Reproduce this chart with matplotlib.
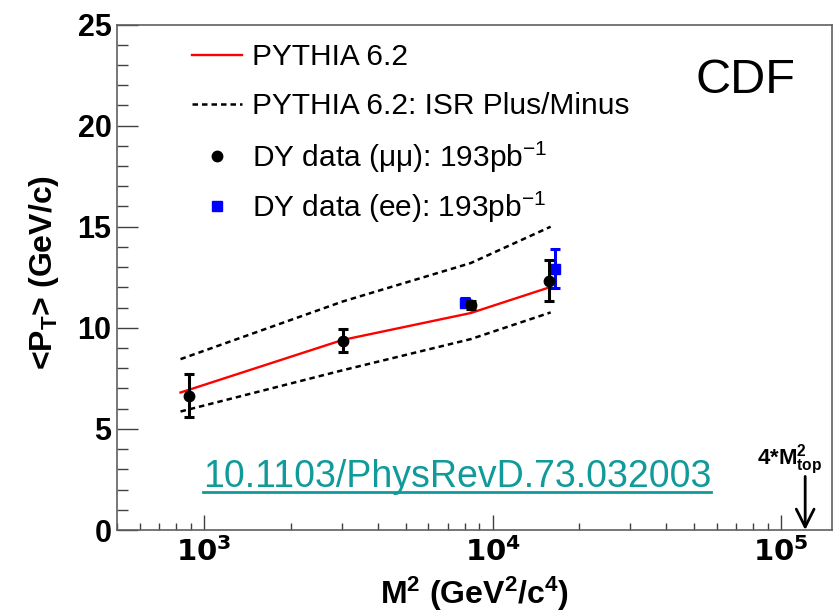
import matplotlib
matplotlib.use("Agg")
import matplotlib.pyplot as plt
from matplotlib.lines import Line2D
from matplotlib.ticker import FixedLocator, LogLocator, MultipleLocator, NullFormatter
import numpy as np

plt.rcParams['font.family'] = ['Liberation Sans', 'DejaVu Sans']
plt.rcParams['mathtext.default'] = 'regular'

# Drell-Yan <pT> vs M^2, CDF data and PYTHIA 6.2 tunes
m2_mumu = [891, 3025, 8410, 15630]
pt_mumu = [6.65, 9.37, 11.14, 12.33]
err_mumu = [1.07, 0.57, 0.2, 1.0]

m2_ee = [8020, 16480]
pt_ee = [11.25, 12.92]
err_ee = [0.2, 0.97]

m2_theory = [830, 3025, 8400, 15900]
pt_pythia = [6.8, 9.4, 10.73, 12.02]
pt_isr_plus = [8.45, 11.3, 13.2, 15.0]
pt_isr_minus = [5.86, 7.9, 9.44, 10.76]

m_top = 174.0
m2_top4 = 4 * m_top ** 2

xtick_vals = [1e3, 1e4, 1e5]
xtick_labels = ['$\\mathbf{10^{3}}$', '$\\mathbf{10^{4}}$', '$\\mathbf{10^{5}}$']
ytick_vals = [0, 5, 10, 15, 20, 25]

dash = (0, (2.2, 1.6))

fig = plt.figure(figsize=(8.33, 6.15), dpi=100)
ax = fig.add_axes([117 / 833, 1 - 530 / 615, 715 / 833, 505.5 / 615])

ax.plot(m2_theory, pt_pythia, color='#ff0000', lw=1.7, zorder=2)
ax.plot(m2_theory, pt_isr_plus, color='black', lw=1.8, ls=dash, zorder=2)
ax.plot(m2_theory, pt_isr_minus, color='black', lw=1.8, ls=dash, zorder=2)

ax.errorbar(m2_ee, pt_ee, yerr=err_ee, fmt='s', color='#0000ff', ms=7,
            elinewidth=2.2, capsize=3.5, capthick=2.2, zorder=3)
ax.errorbar(m2_mumu, pt_mumu, yerr=err_mumu, fmt='o', color='black', ms=7.5,
            elinewidth=2.2, capsize=3.5, capthick=2.2, zorder=4)

ax.set_xscale('log')
ax.set_xlim(500, 1.5e5)
ax.set_ylim(0, 25)

ax.xaxis.set_major_locator(FixedLocator(xtick_vals))
ax.set_xticklabels(xtick_labels)
ax.xaxis.set_minor_locator(LogLocator(base=10, subs=np.arange(2, 10)))
ax.xaxis.set_minor_formatter(NullFormatter())
ax.set_yticks(ytick_vals)
ax.yaxis.set_minor_locator(MultipleLocator(1))

for s in ax.spines.values():
    s.set_color('#606060')
    s.set_linewidth(1.2)

ax.tick_params(axis='y', which='major', direction='in', length=15, width=1, color='#404040',
               labelsize=22, pad=4)
ax.tick_params(axis='y', which='minor', direction='in', length=8, width=1, color='#404040')
ax.tick_params(axis='x', which='major', direction='in', length=11, width=1, color='#404040',
               labelsize=21, pad=5)
ax.tick_params(axis='x', which='minor', direction='in', length=5, width=1, color='#404040')
for lab in ax.get_yticklabels():
    lab.set_fontweight('bold')

fig.text(474 / 833, 1 - 604 / 615, 'M$^2$ (GeV$^2$/c$^4$)', fontsize=23, fontweight='bold',
         ha='center', va='baseline')
fig.text(44 / 833, 1 - 273 / 615, '<P$_T$> (GeV/c)', fontsize=23, fontweight='bold',
         ha='center', va='center', rotation=90)

# legend, one entry per row so the rows stay evenly spaced
handles = [
    Line2D([], [], color='#ff0000', lw=1.7),
    Line2D([], [], color='black', lw=1.8, ls=dash),
    Line2D([], [], color='black', marker='o', ls='none', ms=7.5),
    Line2D([], [], color='#0000ff', marker='s', ls='none', ms=7),
]
labels = ['PYTHIA 6.2', 'PYTHIA 6.2: ISR Plus/Minus',
          'DY data ($\\mu\\mu$): 193pb$^{-1}$', 'DY data (ee): 193pb$^{-1}$']
row_y = [57, 106, 157, 207]
for h, lab, y in zip(handles, labels, row_y):
    fig.legend([h], [lab], loc='center left', bbox_to_anchor=(192 / 833, 1 - y / 615),
               frameon=False, fontsize=21.5, handlelength=1.66, handletextpad=0.36,
               borderpad=0, borderaxespad=0)

fig.text(695 / 833, 1 - 93 / 615, 'CDF', fontsize=35, ha='left', va='baseline')

# DOI reference with underline
doi = fig.text(203 / 833, 1 - 487 / 615, '10.1103/PhysRevD.73.032003', fontsize=27,
               color='#119a9a', ha='left', va='baseline')
fig.canvas.draw()
bb = doi.get_window_extent()
uy = 1 - 492 / 615
fig.add_artist(Line2D([bb.x0 / 833, bb.x1 / 833], [uy, uy], color='#119a9a', lw=2,
                      transform=fig.transFigure))

# 4*M_top^2 marker
ax.annotate('', xy=(m2_top4, 0), xytext=(m2_top4, 2.65),
            arrowprops=dict(arrowstyle='->', lw=2, color='black', mutation_scale=32,
                            shrinkA=0, shrinkB=0))
ax.text(1.07e5, 3.25, '4*M$^2_{top}$', fontsize=16, fontweight='bold', ha='center',
        va='baseline')

fig.savefig('out.png', dpi=100)
